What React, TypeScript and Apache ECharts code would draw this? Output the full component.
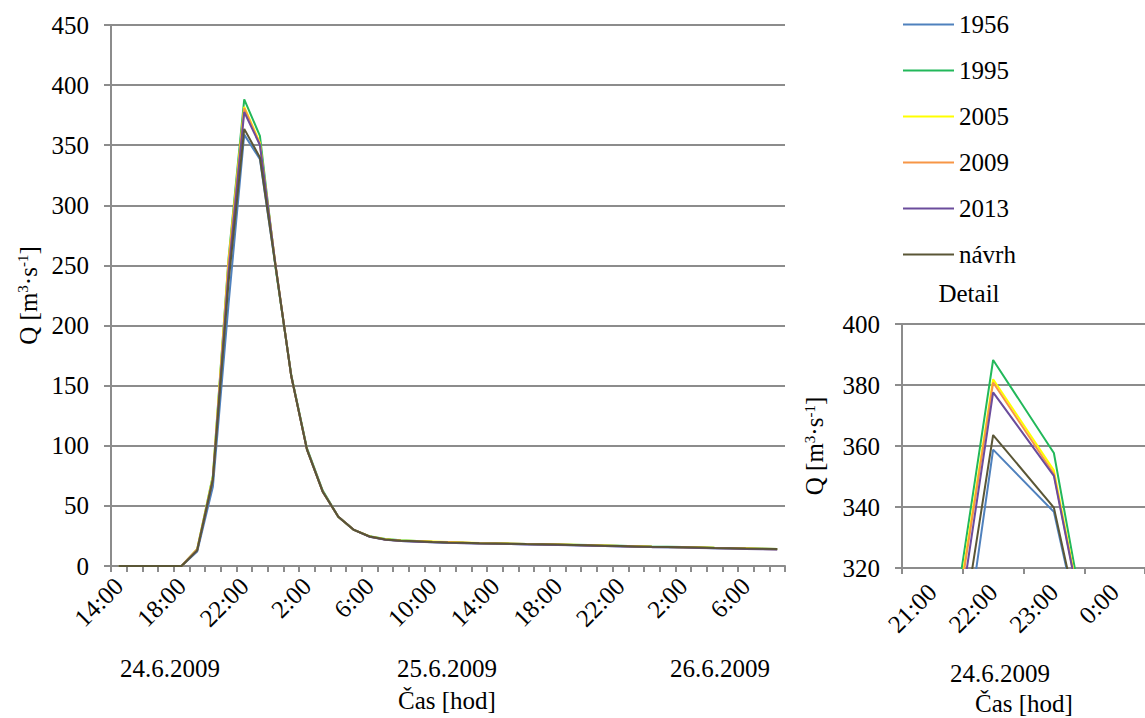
import React, { useEffect, useRef } from "react";
import * as echarts from "echarts";

const FONT = "Liberation Serif";

const categories = [
  "24.6. 14:00", "24.6. 15:00", "24.6. 16:00", "24.6. 17:00", "24.6. 18:00", "24.6. 19:00",
  "24.6. 20:00", "24.6. 21:00", "24.6. 22:00", "24.6. 23:00", "25.6. 0:00", "25.6. 1:00",
  "25.6. 2:00", "25.6. 3:00", "25.6. 4:00", "25.6. 5:00", "25.6. 6:00", "25.6. 7:00",
  "25.6. 8:00", "25.6. 9:00", "25.6. 10:00", "25.6. 11:00", "25.6. 12:00", "25.6. 13:00",
  "25.6. 14:00", "25.6. 15:00", "25.6. 16:00", "25.6. 17:00", "25.6. 18:00", "25.6. 19:00",
  "25.6. 20:00", "25.6. 21:00", "25.6. 22:00", "25.6. 23:00", "26.6. 0:00", "26.6. 1:00",
  "26.6. 2:00", "26.6. 3:00", "26.6. 4:00", "26.6. 5:00", "26.6. 6:00", "26.6. 7:00",
  "26.6. 8:00",
];

const s1956 = [0, 0, 0, 0, 0, 12, 66, 218, 358.8, 338.4, 249, 158, 97, 62, 41, 30, 24.4, 22, 20.8, 20.3, 19.8, 19.4, 19.1, 18.8, 18.6, 18.3, 18, 17.8, 17.6, 17.3, 17, 16.7, 16.4, 16.1, 15.8, 15.6, 15.4, 15.1, 14.8, 14.6, 14.3, 14.1, 13.9];
const s1995 = [0, 0, 0, 0, 0, 14, 75, 256, 388.2, 357.7, 248, 159, 98, 63, 41, 30, 24.7, 22.4, 21.4, 20.8, 20.2, 19.8, 19.4, 19.1, 18.9, 18.6, 18.3, 18.1, 17.9, 17.7, 17.4, 17.1, 16.8, 16.5, 16.2, 16, 15.8, 15.5, 15.2, 15, 14.7, 14.4, 14.2];
const s2005 = [0, 0, 0, 0, 0, 14, 74, 254, 381.9, 352, 250, 158, 97, 62, 41, 30, 24.6, 22.2, 21.2, 20.7, 20.3, 19.9, 19.5, 19.1, 18.9, 18.6, 18.3, 18.1, 17.9, 17.6, 17.3, 17, 16.7, 16.4, 16.1, 15.9, 15.7, 15.4, 15.1, 14.9, 14.6, 14.3, 14.1];
const s2009 = [0, 0, 0, 0, 0, 14, 73, 252, 380.8, 350.8, 250, 158, 97, 62, 41, 30, 24.5, 22.1, 21.1, 20.6, 20.1, 19.8, 19.4, 19, 18.8, 18.5, 18.2, 18, 17.8, 17.5, 17.2, 16.9, 16.6, 16.3, 16, 15.8, 15.6, 15.3, 15, 14.8, 14.5, 14.2, 14];
const s2013 = [0, 0, 0, 0, 0, 13, 72, 244, 377.6, 350.2, 250, 158, 97, 62, 41, 30, 24.3, 21.8, 20.7, 20.2, 19.7, 19.3, 19, 18.7, 18.5, 18.2, 17.9, 17.7, 17.5, 17.2, 16.9, 16.6, 16.3, 16, 15.7, 15.5, 15.3, 15, 14.7, 14.5, 14.2, 14, 13.8];
const sNavrh = [0, 0, 0, 0, 0, 13, 72, 236, 363.6, 339.8, 249, 158, 97, 62, 41, 30, 24.5, 22, 21, 20.5, 20, 19.6, 19.3, 19, 18.8, 18.5, 18.2, 18, 17.8, 17.5, 17.2, 16.9, 16.6, 16.3, 16, 15.8, 15.6, 15.3, 15, 14.8, 14.5, 14.3, 14.1];

const seriesNames = ["1956", "1995", "2005", "2009", "2013", "návrh"];
const seriesValues = [s1956, s1995, s2005, s2009, s2013, sNavrh];
const seriesColors = ["#4F81BD", "#22B85A", "#FFFF00", "#F79646", "#6B4C9C", "#5A5636"];

const yTicksMain = { min: 0, max: 450, interval: 50 };
const yTicksDetail = { min: 320, max: 400, interval: 20 };
const detailStart = 7;
const detailEnd = 11;

const dateLabels = ["24.6.2009", "25.6.2009", "26.6.2009"];

const GRID_COLOR = "#8c8c8c";

export default function App() {
  const ref = useRef<HTMLDivElement>(null);
  useEffect(() => {
    if (!ref.current) return;
    const chart = echarts.init(ref.current, null, { renderer: "svg" });
    const fs = 25;
    const nameRich = {
      a: { fontSize: fs, fontFamily: FONT, color: "#000" },
      s: { fontSize: 15, fontFamily: FONT, color: "#000", verticalAlign: "top" },
    };
    const axisCommonY = {
      type: "value",
      axisLine: { show: true, lineStyle: { color: GRID_COLOR, width: 2 } },
      axisTick: { show: true, length: 7, lineStyle: { color: GRID_COLOR, width: 2 } },
      splitLine: { show: true, lineStyle: { color: GRID_COLOR, width: 2 } },
      axisLabel: { fontSize: fs, fontFamily: FONT, color: "#000", margin: 22 },
      name: "{a|Q [m}{s|3}{a|·s}{s|-1}{a|]}",
      nameLocation: "middle",
      nameTextStyle: { rich: nameRich },
    };
    const series: any[] = [];
    seriesNames.forEach((n, i) => {
      series.push({
        name: n,
        type: "line",
        xAxisIndex: 0,
        yAxisIndex: 0,
        data: seriesValues[i],
        symbol: "none",
        lineStyle: { width: 2, color: seriesColors[i] },
        itemStyle: { color: seriesColors[i] },
      });
    });
    seriesNames.forEach((n, i) => {
      series.push({
        name: n,
        type: "line",
        xAxisIndex: 1,
        yAxisIndex: 1,
        data: seriesValues[i].slice(detailStart, detailEnd),
        symbol: "none",
        clip: true,
        lineStyle: { width: 2, color: seriesColors[i] },
        itemStyle: { color: seriesColors[i] },
      });
    });
    const textStyle = (x: number, y: number, t: string) => ({
      type: "text",
      x,
      y,
      style: { text: t, fontSize: fs, fontFamily: FONT, fill: "#000", align: "center", verticalAlign: "middle" },
    });
    chart.setOption({
      animation: false,
      backgroundColor: "#fff",
      textStyle: { fontFamily: FONT },
      grid: [
        { left: 111, top: 25, width: 674, height: 541, containLabel: false },
        { left: 902, top: 324, width: 252, height: 244, containLabel: false },
      ],
      legend: {
        orient: "vertical",
        left: 898,
        top: 7,
        itemWidth: 51,
        itemHeight: 2,
        itemGap: 21,
        icon: "rect",
        data: seriesNames,
        textStyle: { fontSize: fs, fontFamily: FONT, color: "#000", padding: [0, 0, 0, 0] },
      },
      xAxis: [
        {
          type: "category",
          gridIndex: 0,
          data: categories,
          boundaryGap: true,
          axisLine: { lineStyle: { color: GRID_COLOR, width: 2 } },
          axisTick: { show: true, interval: 0, length: 6, alignWithLabel: false, lineStyle: { color: GRID_COLOR, width: 2 } },
          axisLabel: {
            interval: 3,
            rotate: 45,
            margin: 16,
            fontSize: fs,
            fontFamily: FONT,
            color: "#000",
            formatter: (v: string) => v.split(" ")[1],
          },
        },
        {
          type: "category",
          gridIndex: 1,
          data: categories.slice(detailStart, detailEnd),
          boundaryGap: true,
          axisLine: { lineStyle: { color: GRID_COLOR, width: 2 } },
          axisTick: { show: true, interval: 0, length: 6, alignWithLabel: false, lineStyle: { color: GRID_COLOR, width: 2 } },
          axisLabel: {
            interval: 0,
            rotate: 45,
            margin: 20,
            fontSize: fs,
            fontFamily: FONT,
            color: "#000",
            formatter: (v: string) => v.split(" ")[1],
          },
        },
      ],
      yAxis: [
        { ...axisCommonY, gridIndex: 0, ...yTicksMain, nameGap: 68 },
        { ...axisCommonY, gridIndex: 1, ...yTicksDetail, nameGap: 75 },
      ],
      graphic: [
        textStyle(170, 668, dateLabels[0]),
        textStyle(447, 668, dateLabels[1]),
        textStyle(720, 668, dateLabels[2]),
        textStyle(447, 700, "Čas [hod]"),
        textStyle(969, 293, "Detail"),
        textStyle(1000, 673, dateLabels[0]),
        textStyle(1024, 703, "Čas [hod]"),
      ],
      series,
    });
    return () => chart.dispose();
  }, []);
  return (
    <div
      ref={ref}
      style={{ position: "fixed", left: 0, top: 0, width: 1145, height: 718, background: "#fff" }}
    />
  );
}
